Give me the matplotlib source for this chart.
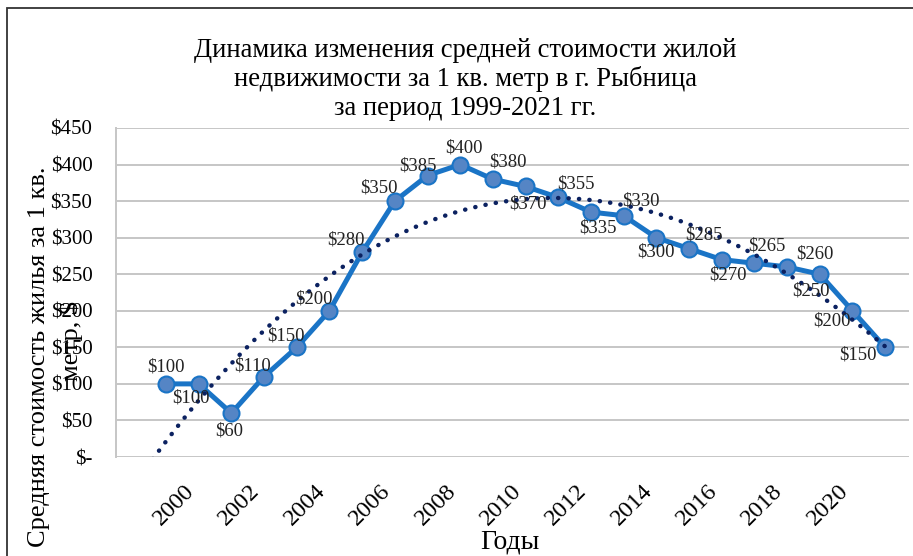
import numpy as np
import matplotlib
matplotlib.use("Agg")
import matplotlib.pyplot as plt
import matplotlib.transforms as mtransforms
from matplotlib.patches import Rectangle

plt.rcParams['font.family'] = ['Liberation Serif', 'DejaVu Serif']

# данные
years = [1999, 2000, 2001, 2002, 2003, 2004, 2005, 2006, 2007, 2008, 2009, 2010,
         2011, 2012, 2013, 2014, 2015, 2016, 2017, 2018, 2019, 2020, 2021]
price = [100, 100, 60, 110, 150, 200, 280, 350, 385, 400, 380, 370,
         355, 335, 330, 300, 285, 270, 265, 260, 250, 200, 150]
year_ticks = list(range(2000, 2021, 2))
y_ticks = list(range(0, 451, 50))
y_tick_labels = ['$-'] + ['$%d' % v for v in y_ticks[1:]]

# смещения подписей (пиксели)
label_dx = [0, -8, -2, -12, -11, -16, -16, -16, -10, 4, 15, 2,
            18, 7, 17, 0, 15, 6, 12, 28, -9, -21, -27]
label_dy = [17, -14, -18, 11, 11, 12, 12, 13, 10, 17, 17, -18,
            13, -16, 15, -14, 14, -15, 17, 13, -17, -10, -8]

W, H = 913, 556
fig = plt.figure(figsize=(W / 100, H / 100), dpi=100)
ax = fig.add_axes([116 / W, 1 - 457 / H, (909 - 116) / W, (457 - 128) / H])

# рамка
fig.patches.append(Rectangle((7 / W, -0.5), 2, 1.5 - 8 / H, transform=fig.transFigure,
                             fill=False, ec='#333333', lw=1.3))

ax.plot(years, price, color='#1a74c6', lw=3.6, marker='o', ms=11.5,
        markerfacecolor='#5585c5', markeredgecolor='#1a74c6', markeredgewidth=1.5, zorder=3)

# полиномиальный тренд
coef = np.polyfit(years, price, 3)
tx = np.linspace(1997.5, 2021, 300)
ax.plot(tx, np.polyval(coef, tx), color='#0b2160', lw=3.2, linestyle=(0, (0.05, 2.3)),
        dash_capstyle='round', zorder=4)

for x, v, dx, dy in zip(years, price, label_dx, label_dy):
    ax.annotate('$%d' % v, (x, v), xytext=(dx, dy), textcoords='offset pixels',
                ha='center', va='center', fontsize=13.5, color='#222222', zorder=5)

ax.set_xlim(1997.47, 2021.73)
ax.set_ylim(0, 450)
ax.set_yticks(y_ticks)
ax.set_yticklabels(y_tick_labels, fontsize=15)
ax.set_xticks(year_ticks)
ax.set_xticklabels([str(y) for y in year_ticks], fontsize=17.5, rotation=45, ha='right', va='top')
shift = mtransforms.ScaledTranslation(5 / 100, 0, fig.dpi_scale_trans)
for lbl in ax.get_xticklabels():
    lbl.set_transform(lbl.get_transform() + shift)
ax.tick_params(axis='both', length=0)
ax.tick_params(axis='y', pad=17)
ax.tick_params(axis='x', pad=17)
ax.grid(axis='y', color='#c6c6c6', lw=1.4)
ax.set_axisbelow(True)
for s in ['top', 'right', 'bottom']:
    ax.spines[s].set_visible(False)
ax.spines['left'].set_color('#c6c6c6')
ax.spines['left'].set_linewidth(1.4)

# заголовок
fig.text(465 / W, 1 - 57 / H, 'Динамика изменения средней стоимости жилой',
         ha='center', va='baseline', fontsize=19.2)
fig.text(465 / W, 1 - 86.5 / H, 'недвижимости за 1 кв. метр в г. Рыбница',
         ha='center', va='baseline', fontsize=19.2)
fig.text(465 / W, 1 - 115 / H, 'за период 1999-2021 гг.',
         ha='center', va='baseline', fontsize=19.2)

# подписи осей
fig.text(39 / W, 1 - 357 / H, 'Средняя стоимость жилья за 1 кв.', rotation=90,
         ha='center', va='center', fontsize=19)
fig.text(71 / W, 1 - 341 / H, 'метр, $', rotation=90,
         ha='center', va='center', fontsize=19)
fig.text(510 / W, 1 - 548 / H, 'Годы', ha='center', va='baseline', fontsize=20)

fig.savefig('out.png', dpi=100)
